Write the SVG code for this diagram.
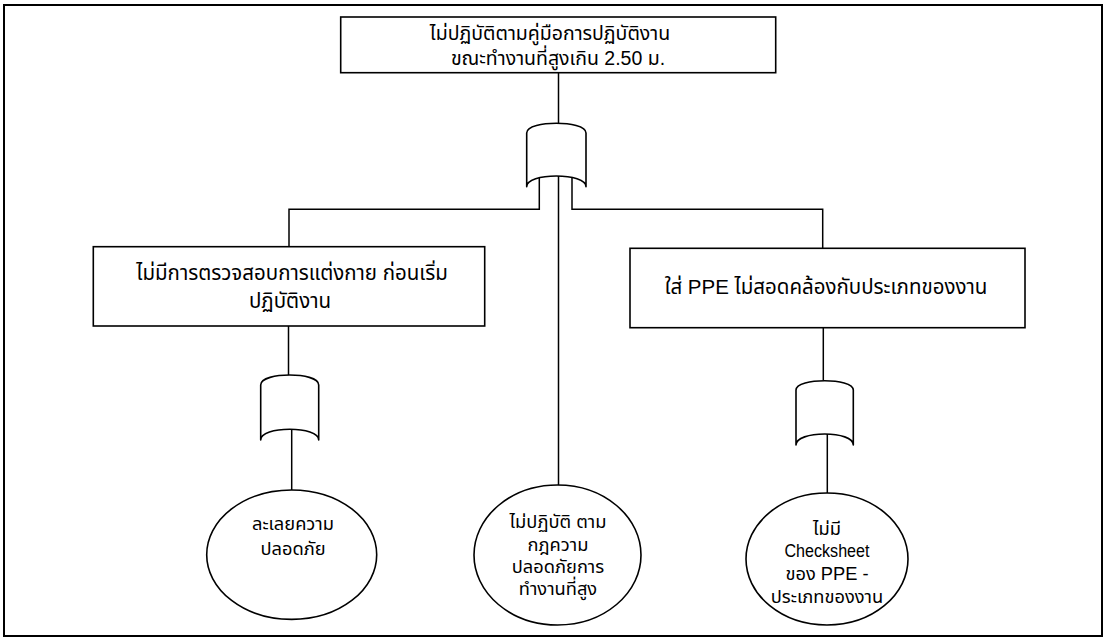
<svg xmlns="http://www.w3.org/2000/svg" width="1106" height="640" viewBox="0 0 1106 640">
  <style>
    .frame { fill: #ffffff; stroke: #000000; stroke-width: 2; }
    .box { fill: #ffffff; stroke: #000000; stroke-width: 1.6; }
    .gate { fill: #ffffff; stroke: #000000; stroke-width: 1.6; stroke-linejoin: round; }
    .wire { fill: none; stroke: #000000; stroke-width: 1.5; }
    .ev { fill: #ffffff; stroke: #000000; stroke-width: 1.6; }
    text { font-family: "Liberation Sans", "Noto Sans Thai", "Noto Sans", Tahoma, sans-serif; fill: #000000; text-anchor: middle; }
    .t-top { font-size: 19.5px; }
    .t-box { font-size: 20.5px; }
    .t-ev { font-size: 18.3px; }
  </style>

  <!-- page frame -->
  <rect class="frame" x="4" y="5" width="1098" height="631"/>

  <!-- connectors -->
  <g id="connectors">
    <line class="wire" x1="558.5" y1="72.7" x2="558.5" y2="123.5"/>
    <line class="wire" x1="558.5" y1="176" x2="558.5" y2="485"/>
    <polyline class="wire" points="539.3,178 539.3,209.3 289,209.3 289,246.7"/>
    <polyline class="wire" points="572,178 572,209.3 822.7,209.3 822.7,248.3"/>
    <line class="wire" x1="288.5" y1="326" x2="288.5" y2="375"/>
    <line class="wire" x1="291.7" y1="429.3" x2="291.7" y2="490"/>
    <line class="wire" x1="823.3" y1="327.7" x2="823.3" y2="380.7"/>
    <line class="wire" x1="827.3" y1="434" x2="827.3" y2="493"/>
  </g>

  <!-- top event -->
  <g id="top-event">
    <rect class="box" x="340.7" y="17" width="435" height="55.7"/>
    <text class="t-top" x="550" y="40">ไม่ปฏิบัติตามคู่มือการปฏิบัติงาน</text>
    <text class="t-top" x="558" y="65">ขณะทำงานที่สูงเกิน 2.50 ม.</text>
  </g>

  <!-- OR gate under the top event -->
  <g id="gate-top">
    <path class="gate" d="M526.7,186.7 L526.7,133 C526.7,126 543,123.3 556.3,123.3 C569.6,123.3 586,126 586,133 L586,186.7 C586,180 572,176 556.3,176 C540.6,176 526.7,180 526.7,186.7 Z"/>
  </g>

  <!-- intermediate event: left -->
  <g id="event-left">
    <rect class="box" x="93.3" y="246.7" width="391.4" height="79.3"/>
    <text class="t-box" x="292" y="280">ไม่มีการตรวจสอบการแต่งกาย ก่อนเริ่ม</text>
    <text class="t-box" x="290" y="308">ปฏิบัติงาน</text>
  </g>

  <!-- intermediate event: right -->
  <g id="event-right">
    <rect class="box" x="630" y="248.3" width="395" height="79.4"/>
    <text class="t-box" x="826" y="294">ใส่ PPE ไม่สอดคล้องกับประเภทของงาน</text>
  </g>

  <!-- OR gate under the left event -->
  <g id="gate-left">
    <path class="gate" d="M260.7,440 L260.7,385 C260.7,378 276,375 289.7,375 C303.4,375 318.7,378 318.7,385 L318.7,440 C318.7,433 305,429.3 289.7,429.3 C274.4,429.3 260.7,433 260.7,440 Z"/>
  </g>

  <!-- OR gate under the right event -->
  <g id="gate-right">
    <path class="gate" d="M796,445 L796,390 C796,383.5 811,380.7 824.7,380.7 C838.4,380.7 853.3,383.5 853.3,390 L853.3,445 C853.3,438 840,434 824.7,434 C809.4,434 796,438 796,445 Z"/>
  </g>

  <!-- basic events -->
  <g id="basic-left">
    <ellipse class="ev" cx="291.7" cy="554.7" rx="85" ry="64.7"/>
    <text class="t-ev" x="293" y="530">ละเลยความ</text>
    <text class="t-ev" x="293" y="555">ปลอดภัย</text>
  </g>

  <g id="basic-middle">
    <ellipse class="ev" cx="557.5" cy="555" rx="83.5" ry="70"/>
    <text class="t-ev" x="558" y="528">ไม่ปฏิบัติ ตาม</text>
    <text class="t-ev" x="558" y="551">กฎความ</text>
    <text class="t-ev" x="558" y="573">ปลอดภัยการ</text>
    <text class="t-ev" x="558" y="595">ทำงานที่สูง</text>
  </g>

  <g id="basic-right">
    <ellipse class="ev" cx="827" cy="559" rx="81" ry="66"/>
    <text class="t-ev" x="827" y="535">ไม่มี</text>
    <text class="t-ev" x="827" y="557" textLength="85" lengthAdjust="spacingAndGlyphs">Checksheet</text>
    <text class="t-ev" x="827" y="580">ของ PPE -</text>
    <text class="t-ev" x="827" y="603">ประเภทของงาน</text>
  </g>
</svg>
